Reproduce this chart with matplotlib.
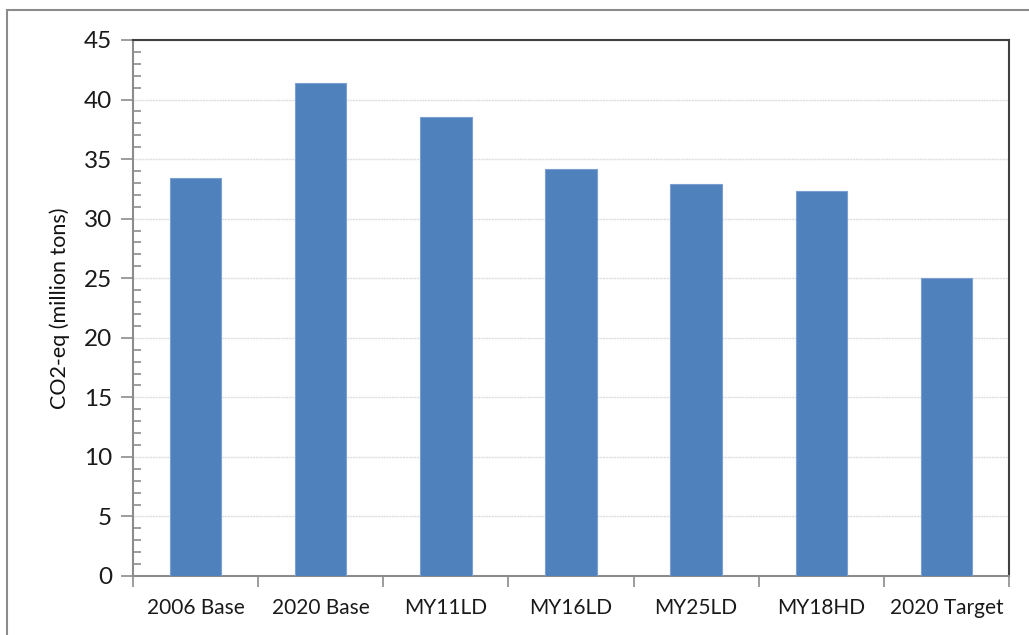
import matplotlib.pyplot as plt
from matplotlib.patches import Rectangle
import numpy as np

scenarios = ["2006 Base", "2020 Base", "MY11LD", "MY16LD", "MY25LD", "MY18HD", "2020 Target"]
emissions = [33.4, 41.4, 38.5, 34.2, 32.9, 32.3, 25.0]
y_ticks = [0, 5, 10, 15, 20, 25, 30, 35, 40, 45]

plt.rcParams['font.family'] = ['Lato', 'DejaVu Sans']

W, H = 1029, 635
fig = plt.figure(figsize=(W / 100, H / 100), dpi=100)

# chart area border, runs off the right and bottom edges
fig.patches.append(Rectangle((7 / W, -0.1), 1.2, 1 - 10 / H + 0.1, transform=fig.transFigure,
                             fill=False, edgecolor='#8c8c8c', linewidth=1.5))

ax = fig.add_axes([133 / W, 1 - 576 / H, (1009 - 133) / W, (576 - 40) / H])

x = np.arange(len(scenarios))
ax.bar(x, emissions, width=0.41, color='#4f81bd', edgecolor='#7a9fd0', linewidth=0.8, zorder=3)

ax.set_xlim(-0.5, len(scenarios) - 0.5)
ax.set_ylim(0, 45)

# y axis: labelled major ticks outside, unlabelled minor ticks inside
ax.set_yticks(y_ticks)
ax.set_yticklabels([str(v) for v in y_ticks], fontsize=17.5, color='#1a1a1a')
ax.set_yticks(np.arange(0, 46, 1), minor=True)
ax.tick_params(axis='y', which='major', direction='out', length=9, width=1.2, color='#8c8c8c', pad=6)
ax.tick_params(axis='y', which='minor', direction='in', length=6, width=1.2, color='#8c8c8c')

# x axis: tick marks between categories, labels at centres
ax.set_xticks(np.arange(-0.5, len(scenarios), 1))
ax.set_xticklabels([])
ax.set_xticks(x, minor=True)
ax.set_xticklabels(scenarios, minor=True, fontsize=15, color='#1a1a1a')
ax.tick_params(axis='x', which='major', direction='out', length=8, width=1.2, color='#8c8c8c')
ax.tick_params(axis='x', which='minor', length=0, pad=16)

ax.grid(axis='y', which='major', color='#e0e0e0', linestyle=(0, (1.5, 0.5)), linewidth=1, zorder=0)

for side in ('left', 'bottom'):
    ax.spines[side].set_color('#8c8c8c')
    ax.spines[side].set_linewidth(1.5)
for side in ('top', 'right'):
    ax.spines[side].set_color('#404040')
    ax.spines[side].set_linewidth(1.5)

ax.set_ylabel('CO2-eq (million tons)', fontsize=15.5, color='#111111', labelpad=10)

fig.savefig('out.png', dpi=100)
